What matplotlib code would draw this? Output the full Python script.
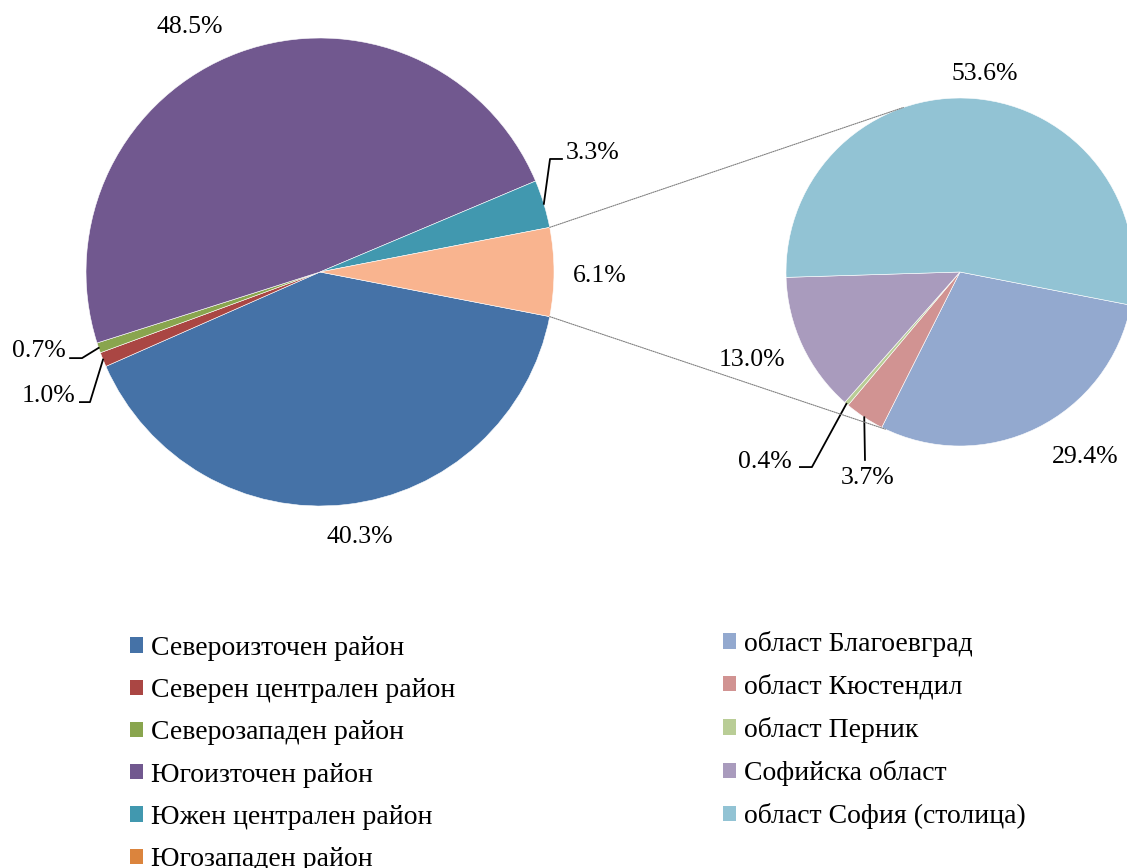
import numpy as np
import matplotlib
matplotlib.use("Agg")
import matplotlib.pyplot as plt
from matplotlib.patches import Patch, ConnectionPatch

plt.rcParams["font.family"] = ["Liberation Serif", "DejaVu Serif"]

# data
regions = ["Североизточен район", "Северен централен район", "Северозападен район",
           "Югоизточен район", "Южен централен район", "Югозападен район"]
region_share = [40.3, 1.0, 0.7, 48.5, 3.3, 6.1]
region_colors = ["#4572A7", "#AA4643", "#89A54E", "#71588F", "#4198AF", "#F9B48F"]
region_legend_colors = ["#4572A7", "#AA4643", "#89A54E", "#71588F", "#4198AF", "#DB843D"]

districts = ["област Благоевград", "област Кюстендил", "област Перник",
             "Софийска област", "област София (столица)"]
district_share = [29.4, 3.7, 0.4, 13.0, 53.6]
district_colors = ["#93A9CF", "#D19392", "#B9CD96", "#A99BBD", "#92C3D4"]

# label layout: (x, y, ha) in pie units, optional leader (elbow, end)
left_labels = [
    ((0.171, -1.132, "center"), None),
    ((-1.047, -0.530, "right"), ((-0.983, -0.556), (-1.026, -0.556))),
    ((-1.085, -0.338, "right"), ((-1.017, -0.368), (-1.068, -0.368))),
    ((-0.556, 1.047, "center"), None),
    ((1.05, 0.509, "left"), ((0.983, 0.483), (1.034, 0.483))),
    ((1.197, -0.017, "center"), None),
]
right_labels = [
    ((0.718, -1.063, "center"), None),
    ((-0.529, -1.184, "center"), ((-0.546, -1.080), None)),
    ((-0.966, -1.092, "right"), ((-0.851, -1.121), (-0.920, -1.121))),
    ((-1.195, -0.506, "center"), None),
    ((0.144, 1.138, "center"), None),
]


def draw_pie(ax, values, colors, labels, start):
    wedges, _ = ax.pie(values, colors=colors, startangle=start, counterclock=False,
                       radius=1.0, wedgeprops=dict(edgecolor="white", linewidth=0.4))
    ax.set_xlim(-1, 1)
    ax.set_ylim(-1, 1)
    ax.set_aspect("equal")
    ax.axis("off")
    for w, v, (txt, leader) in zip(wedges, values, labels):
        x, y, ha = txt
        ax.text(x, y, f"{v:.1f}%", ha=ha, va="center", fontsize=18.5, clip_on=False)
        if leader is not None:
            mid = np.deg2rad((w.theta1 + w.theta2) / 2)
            pts = [(np.cos(mid), np.sin(mid))] + [p for p in leader if p is not None]
            xs, ys = zip(*pts)
            ax.plot(xs, ys, color="black", lw=1.3, clip_on=False)
    return wedges


fig = plt.figure(figsize=(11.27, 8.68), dpi=100)
ax1 = fig.add_axes([86 / 1127, 1 - 506 / 868, 468 / 1127, 468 / 868])
ax2 = fig.add_axes([786 / 1127, 1 - 446 / 868, 348 / 1127, 348 / 868])

w1 = draw_pie(ax1, region_share, region_colors, left_labels, -region_share[-1] / sum(region_share) * 180)
w2 = draw_pie(ax2, district_share, district_colors, right_labels, -11)

# connector lines between split slice and second pie
split = w1[-1]
for a_left, a_right in [(split.theta1, 244.6), (split.theta2, 109.0)]:
    p1 = (np.cos(np.deg2rad(a_left)), np.sin(np.deg2rad(a_left)))
    p2 = (np.cos(np.deg2rad(a_right)), np.sin(np.deg2rad(a_right)))
    con = ConnectionPatch(xyA=p1, coordsA=ax1.transData, xyB=p2, coordsB=ax2.transData,
                          color="#808080", lw=0.8, linestyle=(0, (1, 1)))
    fig.add_artist(con)

h1 = [Patch(facecolor=c) for c in region_legend_colors]
h2 = [Patch(facecolor=c) for c in district_colors]
leg_kw = dict(frameon=False, fontsize=20, handlelength=0.47, handleheight=0.47,
              handletextpad=0.29, labelspacing=0.62, borderaxespad=0, borderpad=0)
fig.legend(h1, regions, loc="upper left", bbox_to_anchor=(130 / 1127, 1 - 636 / 868), **leg_kw)
fig.legend(h2, districts, loc="upper left", bbox_to_anchor=(723 / 1127, 1 - 631 / 868), **leg_kw)

fig.savefig("out.png", dpi=100)
